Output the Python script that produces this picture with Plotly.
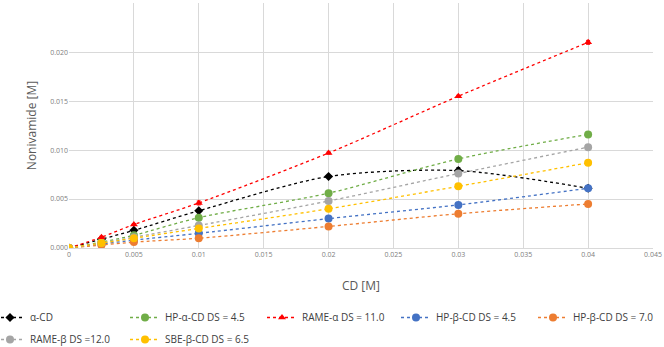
import plotly.graph_objects as go

cd = [0, 0.0025, 0.005, 0.01, 0.02, 0.03, 0.04]

names = ["α-CD", "HP-α-CD DS = 4.5", "RAME-α DS = 11.0", "HP-β-CD DS = 4.5",
         "HP-β-CD DS = 7.0", "RAME-β DS =12.0", "SBE-β-CD DS = 6.5"]

alpha_cd = [0, 0.0009, 0.0018, 0.0038, 0.0073, 0.0079, 0.0061]
hp_alpha = [0, 0.0006, 0.0013, 0.0031, 0.0056, 0.0091, 0.0116]
rame_alpha = [0, 0.0011, 0.0024, 0.0046, 0.0097, 0.0155, 0.0210]
hp_beta45 = [0, 0.0004, 0.0008, 0.0015, 0.0030, 0.0044, 0.0061]
hp_beta70 = [0, 0.0003, 0.0006, 0.0010, 0.0022, 0.0035, 0.0045]
rame_beta = [0, 0.0005, 0.0011, 0.0023, 0.0048, 0.0076, 0.0103]
sbe_beta = [0, 0.0005, 0.0010, 0.0020, 0.0040, 0.0063, 0.0087]

err_alpha = [0, 0.00005, 0.0001, 0.0001, 0.0001, 0.0003, 0.0002]
err_rame_a = [0, 0.0001, 0.0001, 0.0002, 0.0001, 0.0001, 0.0002]
err_small = [0, 0.00005, 0.00005, 0.0001, 0.0001, 0.0001, 0.0002]
err_hpb70 = [0, 0.00005, 0.00005, 0.0001, 0.0001, 0.0002, 0.0001]

series = [alpha_cd, hp_alpha, rame_alpha, hp_beta45, hp_beta70, rame_beta, sbe_beta]
errors = [err_alpha, err_small, err_rame_a, err_small, err_hpb70, err_small, err_small]
colors = ["#000000", "#70AD47", "#FF0000", "#4472C4", "#ED7D31", "#A5A5A5", "#FFC000"]
symbols = ["diamond", "circle", "triangle-up", "circle", "circle", "circle", "circle"]
sizes = [7, 8, 7, 8, 8, 8, 8]
# legend column each series appears in (two rows, five columns)
legend_ids = ["legend", "legend2", "legend3", "legend4", "legend5", "legend", "legend2"]

x_ticks = [0, 0.005, 0.01, 0.015, 0.02, 0.025, 0.03, 0.035, 0.04, 0.045]
x_ticktext = ["0", "0.005", "0.01", "0.015", "0.02", "0.025", "0.03", "0.035", "0.04", "0.045"]
y_ticks = [0, 0.005, 0.01, 0.015, 0.02, 0.025]
y_ticktext = ["0.000", "0.005", "0.010", "0.015", "0.020", "0.025"]

W, H = 664, 347
ML, MR, MT, MB = 69, 11, 3, 99
PW, PH = W - ML - MR, H - MT - MB

fig = go.Figure()
for i, (name, ys, err, c, s, sz, lg) in enumerate(
        zip(names, series, errors, colors, symbols, sizes, legend_ids)):
    fig.add_trace(go.Scatter(
        x=cd, y=ys, name=name, mode="lines+markers",
        legend=lg, legendgroup=f"g{i}",
        line=dict(color=c, width=1.3, dash="dot", shape="spline", smoothing=0.8),
        marker=dict(color=c, symbol=s, size=sz),
        error_y=dict(type="data", array=err, color=c, thickness=1, width=2),
    ))

col_left_px = [-10, 125, 262, 396, 533]
legend_top_px = 303
legend_common = dict(
    orientation="v", xanchor="left", yanchor="top",
    font=dict(size=10, color="#404040"), itemwidth=30,
    traceorder="grouped", tracegroupgap=3,
    bgcolor="rgba(0,0,0,0)", borderwidth=0,
)
legend_layout = {}
for k, px in enumerate(col_left_px):
    key = "legend" if k == 0 else f"legend{k + 1}"
    legend_layout[key] = dict(legend_common,
                              x=(px - ML) / PW,
                              y=1 - (legend_top_px - MT) / PH)

fig.update_layout(
    width=W, height=H,
    margin=dict(l=ML, r=MR, t=MT, b=MB, autoexpand=False),
    paper_bgcolor="white", plot_bgcolor="white",
    font=dict(family="Open Sans, Arial, sans-serif", color="#595959"),
    showlegend=True,
    xaxis=dict(
        range=[0, 0.045], tickvals=x_ticks, ticktext=x_ticktext,
        tickfont=dict(size=7, color="#808080"),
        showgrid=True, gridcolor="#D9D9D9", gridwidth=1,
        zeroline=False, showline=True, linecolor="#D9D9D9",
        title=dict(text="CD [M]", font=dict(size=12, color="#595959"), standoff=23),
    ),
    yaxis=dict(
        range=[0, 0.02502], tickvals=y_ticks, ticktext=y_ticktext,
        tickfont=dict(size=7, color="#808080"),
        showgrid=True, gridcolor="#D9D9D9", gridwidth=1,
        zeroline=False, showline=False,
        title=dict(text="Nonivamide [M]", font=dict(size=12, color="#595959"), standoff=10),
    ),
    **legend_layout,
)

fig.write_html("out.html")
